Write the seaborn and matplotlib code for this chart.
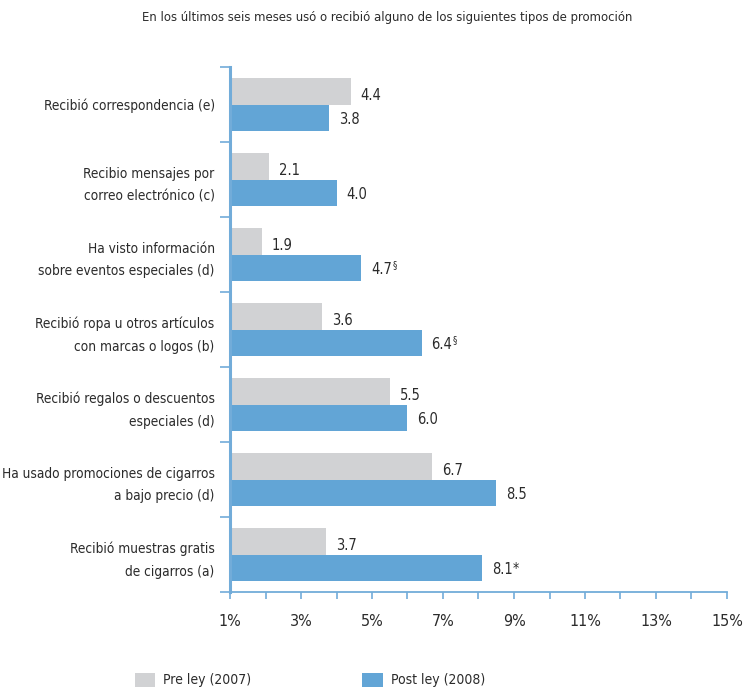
import matplotlib
matplotlib.use("Agg")
import matplotlib.pyplot as plt
import seaborn as sns
import pandas as pd
import numpy as np
from matplotlib.ticker import FixedLocator

categories = [
    "Recibió correspondencia (e)",
    "Recibio mensajes por\ncorreo electrónico (c)",
    "Ha visto información\nsobre eventos especiales (d)",
    "Recibió ropa u otros artículos\ncon marcas o logos (b)",
    "Recibió regalos o descuentos\nespeciales (d)",
    "Ha usado promociones de cigarros\na bajo precio (d)",
    "Recibió muestras gratis\nde cigarros (a)",
]
pre_values = [4.4, 2.1, 1.9, 3.6, 5.5, 6.7, 3.7]
post_values = [3.8, 4.0, 4.7, 6.4, 6.0, 8.5, 8.1]
post_marks = ["", "", "§", "§", "", "", "*"]
series = ["Pre ley (2007)", "Post ley (2008)"]
x_ticks = [1, 3, 5, 7, 9, 11, 13, 15]
x_tick_labels = ["1%", "3%", "5%", "7%", "9%", "11%", "13%", "15%"]
title = "En los últimos seis meses usó o recibió alguno de los siguientes tipos de promoción"

sns.set_theme(style="white")
plt.rcParams["font.family"] = ["DejaVu Sans"]
plt.rcParams["font.stretch"] = "condensed"

GREY = "#d1d2d4"
BLUE = "#62a5d6"
AXC = "#72acd9"
TXT = "#2b2b2b"

df = pd.DataFrame({
    "Categoria": categories * 2,
    "Valor": pre_values + post_values,
    "Serie": [series[0]] * len(categories) + [series[1]] * len(categories),
})

fig = plt.figure(figsize=(7.44, 6.89), dpi=100)
ax = fig.add_axes([230 / 744, 1 - 592 / 689, (727 - 230) / 744, (592 - 67) / 689])

sns.barplot(data=df, y="Categoria", x="Valor", hue="Serie", orient="h",
            palette=[GREY, BLUE], width=0.7, ax=ax, saturation=1, errorbar=None,
            linewidth=0)

ax.set_xlim(1, 15)
ax.set_ylim(len(categories) - 0.5, -0.5)
ax.set_xlabel("")
ax.set_ylabel("")

for s in ["top", "right"]:
    ax.spines[s].set_visible(False)
ax.spines["left"].set_color(AXC)
ax.spines["left"].set_linewidth(2.2)
ax.spines["bottom"].set_color(AXC)
ax.spines["bottom"].set_linewidth(1.3)
ax.spines["left"].set_zorder(5)

ax.xaxis.set_major_locator(FixedLocator(x_ticks))
ax.set_xticklabels(x_tick_labels)
ax.xaxis.set_minor_locator(FixedLocator([2, 4, 6, 8, 10, 12, 14]))
ax.tick_params(axis="x", which="both", bottom=True, direction="out", length=5,
               width=1.2, color=AXC, pad=11, labelsize=11.5, labelcolor=TXT)
ax.tick_params(axis="y", which="major", left=True, length=0, pad=11,
               labelsize=9.8, labelcolor=TXT)
ax.yaxis.set_minor_locator(FixedLocator(np.arange(-0.5, len(categories), 1.0)))
ax.tick_params(axis="y", which="minor", left=True, direction="out", length=7,
               width=1.2, color=AXC)
for lbl in ax.get_yticklabels():
    lbl.set_linespacing(1.75)
    lbl.set_horizontalalignment("right")
    lbl.set_multialignment("right")

# value labels
fig.canvas.draw()
renderer = fig.canvas.get_renderer()
for ci, cont in enumerate(ax.containers):
    for i, bar in enumerate(cont.patches):
        v = bar.get_width()
        yc = bar.get_y() + bar.get_height() / 2
        dy = -3 if ci == 0 else -1
        t = ax.annotate(f"{v:.1f}", xy=(v, yc), xytext=(7, dy),
                        textcoords="offset points", va="center", ha="left",
                        fontsize=10.5, color=TXT)
        if ci == 1 and post_marks[i]:
            fig.canvas.draw()
            bb = t.get_window_extent(renderer)
            mark = post_marks[i]
            if mark == "§":
                ax.annotate(mark, xy=(bb.x1 + 0.5, bb.y1 + 1), xycoords="figure pixels",
                            va="top", ha="left", fontsize=7, color=TXT)
            else:
                ax.annotate(mark, xy=(bb.x1 + 0.5, bb.y1 + 1), xycoords="figure pixels",
                            va="top", ha="left", fontsize=10, color=TXT)

fig.text(387 / 744, 1 - 18 / 689, title, ha="center", va="center",
         fontsize=9.4, color=TXT)

sns.move_legend(ax, "center left", bbox_to_anchor=(122 / 744, 1 - 680 / 689),
                bbox_transform=fig.transFigure, ncol=2, frameon=False,
                title=None, fontsize=10, handlelength=1.5, handleheight=1.2,
                columnspacing=8.0, handletextpad=0.55)
for txt in ax.get_legend().get_texts():
    txt.set_color(TXT)

fig.savefig("out.png", dpi=100)
